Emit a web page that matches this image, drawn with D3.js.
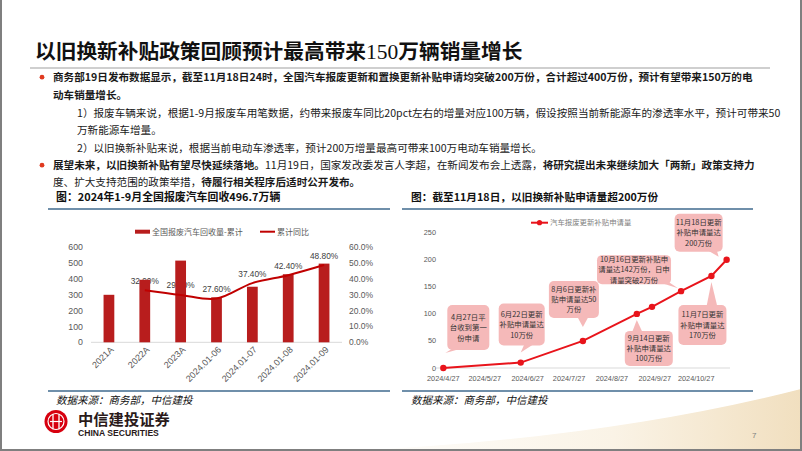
<!DOCTYPE html>
<html><head><meta charset="utf-8">
<script src="https://cdn.jsdelivr.net/npm/d3@7"></script>
<style>
html,body{margin:0;padding:0;background:#fff;}
svg{display:block;font-family:"Noto Sans CJK SC","Noto Sans",sans-serif;}
</style></head>
<body><svg id="c" width="802" height="451"></svg>
<script>
// ---------- data ----------
const titleText = ["以旧换新补贴政策回顾预计最高带来", "150", "万辆销量增长"];
const bullets = [
  [{t:"商务部19日发布数据显示，截至11月18日24时，全国汽车报废更新和置换更新补贴申请均突破200万份，合计超过400万份，预计有望带来150万的电", b:true}],
  [{t:"动车销量增长。", b:true}],
  [{t:"1）报废车辆来说，根据1-9月报废车用笔数据，约带来报废车同比20pct左右的增量对应100万辆，假设按照当前新能源车的渗透率水平，预计可带来50", b:false}],
  [{t:"万新能源车增量。", b:false}],
  [{t:"2）以旧换新补贴来说，根据当前电动车渗透率，预计200万增量最高可带来100万电动车销量增长。", b:false}],
  [{t:"展望未来，以旧换新补贴有望尽快延续落地。", b:true},{t:"11月19日，国家发改委发言人李超，在新闻发布会上透露，", b:false},{t:"将研究提出未来继续加大「两新」政策支持力", b:true}],
  [{t:"度、扩大支持范围的政策举措，", b:false},{t:"待履行相关程序后适时公开发布。", b:true}]
];
const leftTitle = "图：2024年1-9月全国报废汽车回收496.7万辆";
const rightTitle = "图：截至11月18日，以旧换新补贴申请量超200万份";
const sourceText = "数据来源：商务部，中信建投";

const categories = ["2021A","2022A","2023A","2024.01-06","2024.01-07","2024.01-08","2024.01-09"];
const recycleVol = [300, 395, 516, 284, 351, 430, 497];
const recycleYoY = [null, 32.9, 29.9, 27.6, 37.4, 42.4, 48.8];
const yoyLabels = ["", "32.90%", "29.90%", "27.60%", "37.40%", "42.40%", "48.80%"];
const leftTicks = [0,100,200,300,400,500,600];
const rightTicks = [0,10,20,30,40,50,60];
const legendLeft = ["全国报废汽车回收量-累计", "累计同比"];

const appDates = ["2024-04-27","2024-06-22","2024-08-06","2024-09-14","2024-09-25","2024-10-16","2024-11-07","2024-11-18"];
const appValues = [0, 10, 50, 100, 113, 142, 170, 200];
const dateTicks = ["2024-04-27","2024-05-27","2024-06-27","2024-07-27","2024-08-27","2024-09-27","2024-10-27"];
const appTicks = [0,50,100,150,200,250];
const legendRight = "汽车报废更新补贴申请量";
const noteDates = ["2024-04-27","2024-06-22","2024-08-06","2024-10-16","2024-11-18","2024-09-14","2024-11-07"];
const noteTexts = [
  ["4月27日平","台收到第一","份申请"],
  ["6月22日更新","补贴申请量达","10万份"],
  ["8月6日更新补","贴申请量达50","万份"],
  ["10月16日更新补贴申","请量达142万份，日申","请量突破2万份"],
  ["11月18日更新","补贴申请量达","200万份"],
  ["9月14日更新","补贴申请量达","100万份"],
  ["11月7日更新","补贴申请量达","170万份"]
];

// ---------- layout ----------
const svg = d3.select("#c");
const defs = svg.append("defs");
const BAR = "#b81d1d", LINE1 = "#c00000", RED = "#e8141b", BLUE = "#3f6a8e", GRAY = "#595959";
const callLayout = [
  {box:[4,-63,42,45], tip:[2,-15], base:[10,20], side:"b"},
  {box:[-22,-59,46,42], tip:[0,-10], base:[4,14], side:"b"},
  {box:[-34,-60,50,37], tip:[0,-14], base:[-6,6], side:"b"},
  {box:[-84,-36,74,29], tip:[-3,-3], base:[-22,-12], side:"b"},
  {box:[-52,-46,48,38], tip:[-8,-3], base:[-20,-10], side:"b"},
  {box:[-12,17,48,35], tip:[0,6], base:[-5,6], side:"t"},
  {box:[-33,29,48,40], tip:[0,6], base:[-5,6], side:"t"}
];

// background swoosh
const g1 = defs.append("linearGradient").attr("id","sw").attr("x1","0").attr("x2","1").attr("y1","0").attr("y2","0");
g1.append("stop").attr("offset","0").attr("stop-color","#ffffff");
g1.append("stop").attr("offset","0.6").attr("stop-color","#faf3e6");
g1.append("stop").attr("offset","1").attr("stop-color","#f1dfbf");
svg.append("path").attr("d","M330,451 Q600,440 802,388 L802,451 Z").attr("fill","url(#sw)");
svg.append("path").attr("d","M330,451 Q600,440 802,388").attr("fill","none").attr("stroke","#fff").attr("stroke-width",1.5);

// borders
svg.append("line").attr("x1",1).attr("x2",1).attr("y1",0).attr("y2",451).attr("stroke","#7f7f7f").attr("stroke-width",2);
svg.append("line").attr("x1",801).attr("x2",801).attr("y1",0).attr("y2",451).attr("stroke","#7f7f7f").attr("stroke-width",2);
svg.append("line").attr("x1",0).attr("x2",802).attr("y1",450).attr("y2",450).attr("stroke","#7f7f7f").attr("stroke-width",2);

// title
const tt = svg.append("text").attr("x",35).attr("y",59).attr("font-size",20.7).attr("font-weight",700).attr("fill","#111");
tt.append("tspan").text(titleText[0]);
tt.append("tspan").attr("font-family","'Liberation Serif',serif").attr("font-weight",400).attr("font-size",21.5).text(titleText[1]);
tt.append("tspan").text(titleText[2]);
svg.append("line").attr("x1",30).attr("x2",770).attr("y1",68).attr("y2",68).attr("stroke","#bfbfbf").attr("stroke-width",1.5);

// bullets
const lineY = [81,99,117,134,152,169,186];
const lineX = [53,53,77,77,77,53,53];
bullets.forEach((parts,i)=>{
  const t = svg.append("text").attr("x",lineX[i]).attr("y",lineY[i]).attr("font-size",10.6).attr("fill","#1a1a1a");
  parts.forEach(p=>t.append("tspan").attr("font-weight",p.b?700:400).text(p.t));
});
[0,5].forEach(i=>svg.append("circle").attr("cx",42).attr("cy",lineY[i]-3.8).attr("r",2.4).attr("fill","#e03a20"));

// section titles
svg.append("text").attr("x",56).attr("y",201).attr("font-size",10.9).attr("font-weight",700).attr("fill","#111").text(leftTitle);
svg.append("text").attr("x",411).attr("y",201).attr("font-size",10.7).attr("font-weight",700).attr("fill","#111").text(rightTitle);
[[48,390,209],[402,753,209],[48,390,391],[402,753,391]].forEach(d=>
  svg.append("line").attr("x1",d[0]).attr("x2",d[1]).attr("y1",d[2]).attr("y2",d[2]).attr("stroke",BLUE).attr("stroke-width",1.5));
[56,411].forEach(x=>svg.append("text").attr("x",x).attr("y",404).attr("font-size",10.5).attr("font-style","italic").attr("fill","#111").text(sourceText));

// ---------- left chart ----------
const x1 = d3.scaleBand().domain(categories).range([91,342]).paddingInner(0.7).paddingOuter(0.35);
const yL = d3.scaleLinear().domain([0,600]).range([342.3,247.3]);
const yR = d3.scaleLinear().domain([0,60]).range([342.3,247.3]);
const L = svg.append("g");
L.append("line").attr("x1",91).attr("x2",342).attr("y1",yL(0)).attr("y2",yL(0)).attr("stroke","#d9d9d9");
L.selectAll(".lt").data(leftTicks).join("text").attr("x",83).attr("y",d=>yL(d)).attr("dy","0.35em")
  .attr("text-anchor","end").attr("font-family","'Liberation Sans',Arial,sans-serif").attr("font-size",8.8).attr("fill",GRAY).text(d=>d);
L.selectAll(".rt").data(rightTicks).join("text").attr("x",349).attr("y",d=>yR(d)).attr("dy","0.35em")
  .attr("font-family","'Liberation Sans',Arial,sans-serif").attr("font-size",8.5).attr("fill",GRAY).text(d=>d3.format(".1f")(d)+"%");
L.selectAll(".cl").data(categories).join("text")
  .attr("transform",d=>`translate(${x1(d)+x1.bandwidth()/2+3},348) rotate(-45)`)
  .attr("text-anchor","end").attr("dy","0.35em").attr("font-family","'Liberation Sans',Arial,sans-serif").attr("font-size",9).attr("fill",GRAY).text(d=>d);
// labels (under bars)
L.selectAll(".dl").data(categories).join("text")
  .attr("x",d=>x1(d)+x1.bandwidth()/2).attr("y",(d,i)=>recycleYoY[i]==null?0:yR(recycleYoY[i])-6.5)
  .attr("text-anchor","middle").attr("font-family","'Liberation Sans',Arial,sans-serif").attr("font-size",8.3).attr("fill","#404040")
  .text((d,i)=>yoyLabels[i]);
L.selectAll(".bar").data(categories).join("rect")
  .attr("x",d=>x1(d)).attr("width",x1.bandwidth()).attr("y",(d,i)=>yL(recycleVol[i])).attr("height",(d,i)=>yL(0)-yL(recycleVol[i])).attr("fill",BAR);
const lineGen = d3.line().defined(d=>d.v!=null).x(d=>x1(d.c)+x1.bandwidth()/2).y(d=>yR(d.v)).curve(d3.curveCatmullRom);
L.append("path").datum(categories.map((c,i)=>({c,v:recycleYoY[i]})).filter(d=>d.v!=null)).attr("d",lineGen)
  .attr("fill","none").attr("stroke",LINE1).attr("stroke-width",2);
// legend
L.append("rect").attr("x",135).attr("y",229.7).attr("width",15).attr("height",4).attr("fill",BAR);
L.append("text").attr("x",152).attr("y",234.6).attr("font-size",8).attr("fill",GRAY).text(legendLeft[0]);
L.append("line").attr("x1",260).attr("x2",275).attr("y1",231.7).attr("y2",231.7).attr("stroke",LINE1).attr("stroke-width",2);
L.append("text").attr("x",277).attr("y",234.6).attr("font-size",8).attr("fill",GRAY).text(legendLeft[1]);

// ---------- right chart ----------
const parse = d3.timeParse("%Y-%m-%d");
const x2 = d3.scaleTime().domain([parse("2024-04-22"),parse("2024-11-20")]).range([436.4,729.4]);
const y2 = d3.scaleLinear().domain([0,250]).range([368,232.7]);
const R = svg.append("g");
R.append("line").attr("x1",436).attr("x2",730).attr("y1",y2(0)).attr("y2",y2(0)).attr("stroke","#d9d9d9");
R.selectAll(".yt").data(appTicks).join("text").attr("x",436).attr("y",d=>y2(d)).attr("dy","0.35em").attr("text-anchor","end")
  .attr("font-family","'Liberation Sans',Arial,sans-serif").attr("font-size",7.3).attr("fill",GRAY).text(d=>d);
R.selectAll(".xt").data(dateTicks).join("text").attr("x",d=>x2(parse(d))).attr("y",380.5).attr("text-anchor","middle")
  .attr("font-family","'Liberation Sans',Arial,sans-serif").attr("font-size",7.3).attr("fill",GRAY)
  .text(d=>d3.timeFormat("%Y/%-m/%-d")(parse(d)));
const pts = appDates.map((d,i)=>({x:x2(parse(d)), y:y2(appValues[i])}));
R.append("path").datum(pts).attr("d",d3.line().x(d=>d.x).y(d=>d.y)).attr("fill","none").attr("stroke",RED).attr("stroke-width",2);
R.selectAll(".pt").data(pts).join("circle").attr("cx",d=>d.x).attr("cy",d=>d.y).attr("r",3.2).attr("fill",RED);
// legend
R.append("line").attr("x1",531).attr("x2",548).attr("y1",222.7).attr("y2",222.7).attr("stroke",RED).attr("stroke-width",2);
R.append("circle").attr("cx",539.5).attr("cy",222.7).attr("r",2.6).attr("fill",RED);
R.append("text").attr("x",550).attr("y",225.4).attr("font-size",7.4).attr("fill","#7f7f7f").text(legendRight);
// callouts
noteDates.forEach((d,i)=>{
  const idx = appDates.indexOf(d);
  const px = x2(parse(d)), py = y2(appValues[idx]);
  const Ly = callLayout[i];
  const bx = px+Ly.box[0], by = py+Ly.box[1], bw = Ly.box[2], bh = Ly.box[3];
  const edgeY = Ly.side==="b" ? by+bh-2 : by+2;
  const g = R.append("g");
  g.append("path").attr("d",`M${px+Ly.base[0]},${edgeY} L${px+Ly.base[1]},${edgeY} L${px+Ly.tip[0]},${py+Ly.tip[1]} Z`).attr("fill","#f5b9b9");
  g.append("rect").attr("x",bx).attr("y",by).attr("width",bw).attr("height",bh).attr("rx",5).attr("fill","#f5b9b9");
  const lines = noteTexts[i];
  lines.forEach((s,k)=>{
    g.append("text").attr("x",bx+bw/2).attr("y",by+bh/2+(k-(lines.length-1)/2)*10.3+2.7).attr("text-anchor","middle")
      .attr("font-size",7.4).attr("fill","#333").text(s);
  });
});

// ---------- logo & footer ----------
const logo = svg.append("g");
logo.append("circle").attr("cx",56).attr("cy",421.5).attr("r",11.5).attr("fill","#d7000f");
logo.append("circle").attr("cx",56).attr("cy",421.5).attr("r",8).attr("fill","none").attr("stroke","#fff").attr("stroke-width",1.2);
[-3,3].forEach(dx=>logo.append("line").attr("x1",56+dx).attr("x2",56+dx).attr("y1",414).attr("y2",429).attr("stroke","#fff").attr("stroke-width",1.3));
logo.append("line").attr("x1",50).attr("x2",62).attr("y1",421.5).attr("y2",421.5).attr("stroke","#fff").attr("stroke-width",1.2);
logo.append("text").attr("x",78).attr("y",424.5).attr("font-size",15.3).attr("font-weight",700).attr("fill","#2a1a1a").text("中信建投证券");
logo.append("text").attr("x",78).attr("y",435.5).attr("font-family","'Liberation Sans',Arial,sans-serif").attr("font-size",8.6).attr("font-weight",700).attr("fill","#2a1a1a").text("CHINA SECURITIES");
svg.append("text").attr("x",752).attr("y",438).attr("font-size",8).attr("fill","#7f7f7f").attr("font-family","'Liberation Sans',Arial,sans-serif").text("7");
</script></body></html>
